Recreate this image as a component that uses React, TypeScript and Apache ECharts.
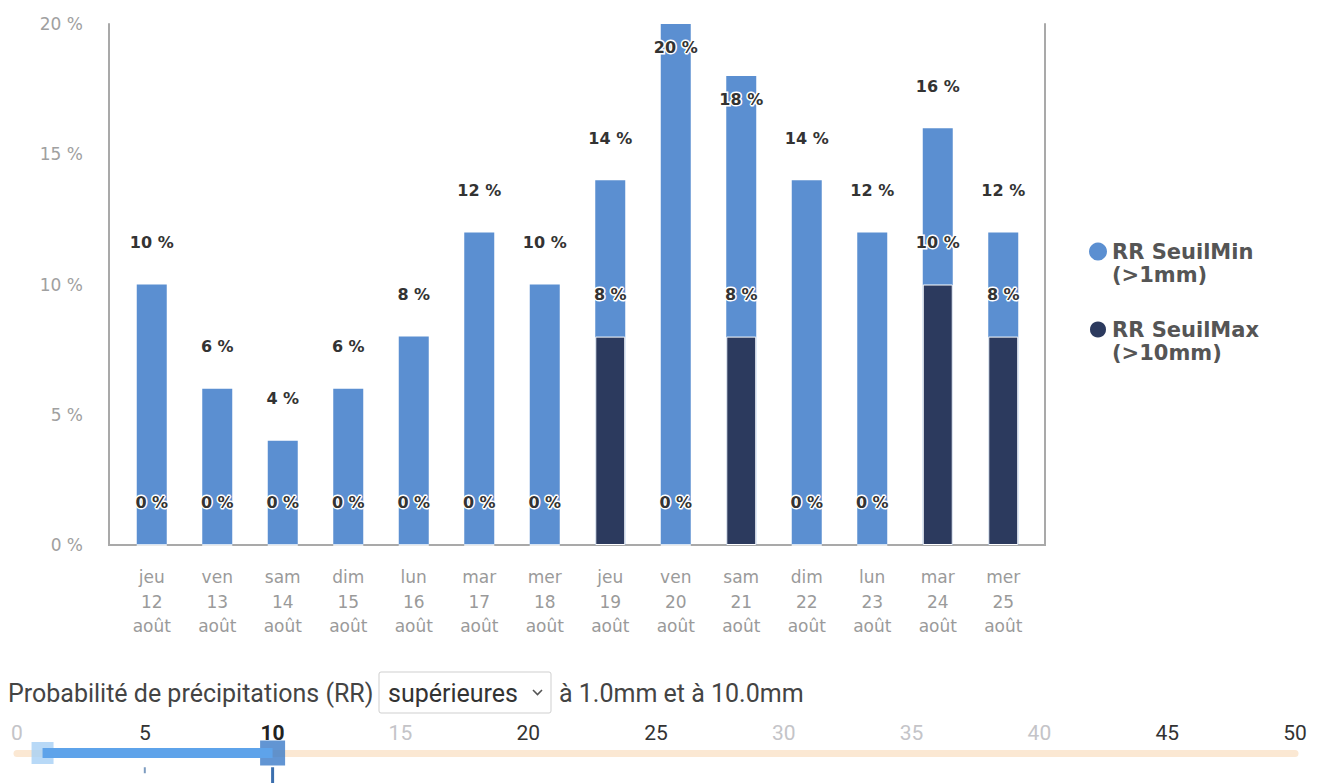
import React, { useEffect, useRef } from "react";
import * as echarts from "echarts";

const categories = [
  "jeu\n12\naoût", "ven\n13\naoût", "sam\n14\naoût", "dim\n15\naoût",
  "lun\n16\naoût", "mar\n17\naoût", "mer\n18\naoût", "jeu\n19\naoût",
  "ven\n20\naoût", "sam\n21\naoût", "dim\n22\naoût", "lun\n23\naoût",
  "mar\n24\naoût", "mer\n25\naoût",
];
const seuilMinValues = [10, 6, 4, 6, 8, 12, 10, 14, 20, 18, 14, 12, 16, 12];
const seuilMaxValues = [0, 0, 0, 0, 0, 0, 0, 8, 0, 8, 0, 0, 10, 8];
const seriesNames = ["RR SeuilMin\n(>1mm)", "RR SeuilMax\n(>10mm)"];
const sliderRange = [1, 10];
const sliderDarkTicks = [5, 20, 25, 45, 50];
const sliderBoldTicks = [10];

export default function App() {
  const ref = useRef<HTMLDivElement>(null);
  useEffect(() => {
    document.body.style.overflow = "hidden";
    const chart = echarts.init(ref.current!, null, { renderer: "svg" });
    const barLabel = {
      show: true,
      position: "top",
      distance: 34,
      formatter: "{c} %",
      fontFamily: "DejaVu Sans",
      fontWeight: "bold",
      fontSize: 16,
      color: "#333",
      textBorderColor: "#fff",
      textBorderWidth: 3,
    };
    const axisGray = "#a9a9a9";
    const uiText = { fontFamily: "Roboto", fontSize: 25, verticalAlign: "middle" };
    chart.setOption({
      animation: false,
      backgroundColor: "#fff",
      legend: {
        orient: "vertical",
        left: 1083,
        top: 212,
        icon: "circle",
        itemWidth: 18,
        itemHeight: 18,
        itemGap: 9,
        data: seriesNames,
        formatter: (name: string) => "\n" + name,
        textStyle: {
          fontFamily: "DejaVu Sans",
          fontWeight: "bold",
          fontSize: 21,
          color: "#555",
          lineHeight: 23,
        },
      },
      grid: [
        { left: 119, width: 917, top: 24, height: 521 },
        { left: 17, right: 26, top: 753, height: 30 },
      ],
      xAxis: [
        {
          type: "category",
          gridIndex: 0,
          data: categories,
          axisLine: { show: false },
          axisTick: { show: false },
          axisLabel: {
            fontFamily: "DejaVu Sans",
            fontSize: 17,
            color: "#9a9a9a",
            lineHeight: 24.5,
            margin: 20,
          },
        },
        {
          type: "value",
          gridIndex: 1,
          min: 0,
          max: 50,
          interval: 5,
          position: "top",
          axisLine: { show: true, onZero: false, lineStyle: { color: "#fbe8d3", width: 7 } },
          axisTick: { show: false },
          splitLine: { show: false },
          axisLabel: {
            margin: 10,
            formatter: (v: number) =>
              sliderBoldTicks.includes(v)
                ? `{b|${v}}`
                : sliderDarkTicks.includes(v)
                ? `{d|${v}}`
                : `{l|${v}}`,
            rich: {
              b: { fontFamily: "Roboto", fontSize: 21, fontWeight: "bold", color: "#222" },
              d: { fontFamily: "Roboto", fontSize: 21, color: "#333" },
              l: { fontFamily: "Roboto", fontSize: 21, color: "#c4c4c8" },
            },
          },
        },
      ],
      yAxis: [
        {
          type: "value",
          gridIndex: 0,
          min: 0,
          max: 20,
          interval: 5,
          offset: 10,
          axisLine: { show: true, lineStyle: { color: axisGray, width: 2 } },
          axisTick: { show: false },
          splitLine: { show: false },
          axisLabel: {
            formatter: "{value} %",
            fontFamily: "DejaVu Sans",
            fontSize: 17,
            color: "#a0a0a0",
            margin: 26,
          },
        },
        {
          type: "value",
          gridIndex: 0,
          position: "right",
          min: 0,
          max: 20,
          interval: 5,
          offset: 9,
          axisLine: { show: true, lineStyle: { color: axisGray, width: 2 } },
          axisTick: { show: false },
          splitLine: { show: false },
          axisLabel: { show: false },
        },
        {
          type: "value",
          gridIndex: 1,
          min: -2,
          max: 0,
          show: false,
        },
      ],
      series: [
        {
          name: seriesNames[0],
          type: "bar",
          xAxisIndex: 0,
          yAxisIndex: 0,
          barWidth: 30,
          barGap: "-100%",
          itemStyle: { color: "#5b8fd1" },
          label: barLabel,
          data: seuilMinValues.map((v) =>
            v >= 18 ? { value: v, label: { position: "insideTop", distance: 15 } } : v
          ),
        },
        {
          name: seriesNames[1],
          type: "bar",
          xAxisIndex: 0,
          yAxisIndex: 0,
          barWidth: 30,
          barGap: "-100%",
          itemStyle: { color: "#2c3a5e", borderColor: "#fff", borderWidth: 1 },
          label: barLabel,
          data: seuilMaxValues,
        },
        {
          type: "line",
          xAxisIndex: 1,
          yAxisIndex: 2,
          silent: true,
          clip: false,
          symbol: "none",
          lineStyle: { color: "#5ea3ea", width: 10 },
          data: [[sliderRange[0], 0], [sliderRange[1], 0]],
        },
        {
          type: "line",
          xAxisIndex: 1,
          yAxisIndex: 2,
          silent: true,
          clip: false,
          symbol: "none",
          lineStyle: { color: "#3b6fae", width: 3 },
          data: [[sliderRange[1], -0.95], [sliderRange[1], -2]],
        },
        {
          type: "line",
          xAxisIndex: 1,
          yAxisIndex: 2,
          silent: true,
          clip: false,
          symbol: "none",
          lineStyle: { color: "#7d9cc0", width: 2 },
          data: [[5, -0.95], [5, -1.35]],
        },
        {
          type: "scatter",
          xAxisIndex: 1,
          yAxisIndex: 2,
          silent: true,
          clip: false,
          symbol: "rect",
          data: [
            { value: [sliderRange[0], 0], symbolSize: 22, itemStyle: { color: "#a6cff5" } },
            { value: [sliderRange[1], 0], symbolSize: 25, itemStyle: { color: "#3b7bc8" } },
          ],
        },
      ],
      graphic: [
        {
          type: "line",
          shape: { x1: 108, y1: 545, x2: 1046, y2: 545 },
          style: { stroke: axisGray, lineWidth: 2 },
          silent: true,
        },
        {
          type: "text",
          x: 8,
          y: 693,
          style: { ...uiText, text: "Probabilité de précipitations (RR)", fill: "#444" },
        },
        {
          type: "rect",
          shape: { x: 379, y: 672, width: 172, height: 41, r: 2 },
          style: { fill: "#fff", stroke: "#cfcfcf", lineWidth: 1 },
        },
        {
          type: "text",
          x: 388,
          y: 693,
          style: { ...uiText, text: "supérieures", fill: "#333" },
        },
        {
          type: "polyline",
          shape: { points: [[533, 690], [537.5, 694.5], [542, 690]] },
          style: { stroke: "#555", lineWidth: 1.6, fill: "none" },
        },
        {
          type: "text",
          x: 559,
          y: 693,
          style: { ...uiText, text: "à 1.0mm et à 10.0mm", fill: "#444" },
        },
      ],
    });
    return () => chart.dispose();
  }, []);
  return (
    <div
      ref={ref}
      style={{ position: "absolute", left: 0, top: 0, width: 1321, height: 783 }}
    />
  );
}
